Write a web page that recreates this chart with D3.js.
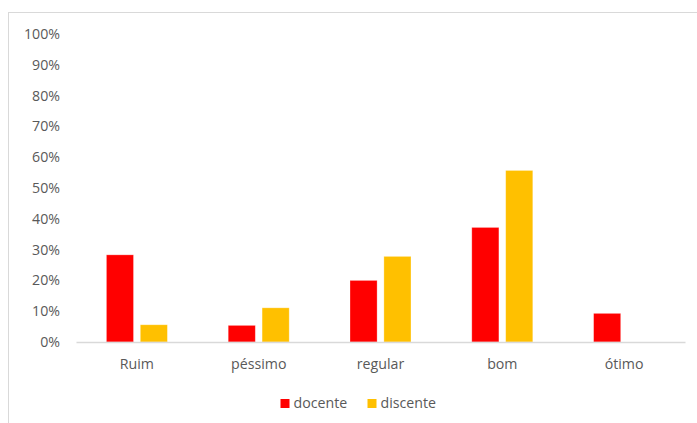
<!DOCTYPE html>
<html>
<head>
<meta charset="utf-8">
<script src="https://cdn.jsdelivr.net/npm/d3@7"></script>
<style>
  body { margin: 0; background: #fff; }
  svg { display: block; font-family: "Open Sans", sans-serif; }
</style>
</head>
<body>
<div id="chart"></div>
<script>
const categories = ["Ruim", "péssimo", "regular", "bom", "ótimo"];
const seriesNames = ["docente", "discente"];
const docente = [0.283, 0.054, 0.20, 0.372, 0.093];
const discente = [0.056, 0.111, 0.278, 0.557, 0];
const colors = ["#ff0000", "#ffc000"];
const yTicks = d3.range(0, 1.01, 0.1);

const width = 697;
const height = 423;
const margin = { top: 34, right: 12, bottom: 81, left: 76 };
const fontSize = "14.2px";
const textColor = "#595959";

const svg = d3.select("#chart")
  .append("svg")
  .attr("width", width)
  .attr("height", height);

// chart frame
svg.append("rect")
  .attr("x", 8.5)
  .attr("y", 12.5)
  .attr("width", 720)
  .attr("height", 440)
  .attr("fill", "none")
  .attr("stroke", "#d9d9d9");

const x = d3.scaleBand()
  .domain(categories)
  .range([margin.left, width - margin.right]);

const xSub = d3.scaleBand()
  .domain(seriesNames)
  .range([0, 61])
  .paddingInner(0.2);

const y = d3.scaleLinear()
  .domain([0, 1])
  .range([height - margin.bottom, margin.top]);

const data = categories.map((c, i) => ({ cat: c, values: [docente[i], discente[i]] }));

// bars
svg.append("g")
  .selectAll("g")
  .data(data)
  .join("g")
    .attr("transform", d => `translate(${x(d.cat) + x.bandwidth() / 2 - 30.5},0)`)
  .selectAll("rect")
  .data(d => d.values.map((v, j) => ({ v, s: seriesNames[j], j })).filter(e => e.v > 0))
  .join("rect")
    .attr("x", d => xSub(d.s))
    .attr("y", d => y(d.v))
    .attr("width", xSub.bandwidth())
    .attr("height", d => y(0) - y(d.v))
    .attr("fill", d => colors[d.j])
    .attr("stroke", "#fff")
    .attr("stroke-opacity", 0.4)
    .attr("stroke-width", 0.75);

// y axis labels
svg.append("g")
  .attr("transform", `translate(60,0)`)
  .call(d3.axisLeft(y).tickValues(yTicks).tickSize(0).tickPadding(0)
    .tickFormat(d3.format(".0%")))
  .call(g => g.select(".domain").remove())
  .call(g => g.selectAll("text")
    .attr("fill", textColor)
    .style("font-size", fontSize)
    .style("font-family", "'Open Sans', sans-serif"));

// x axis
svg.append("g")
  .attr("transform", `translate(0,${y(0)})`)
  .call(d3.axisBottom(x).tickSize(0).tickPadding(17).tickSizeOuter(0))
  .call(g => g.select(".domain").attr("stroke", "#d9d9d9").attr("stroke-width", 1.5))
  .call(g => g.selectAll("text")
    .attr("fill", textColor)
    .style("font-size", fontSize)
    .style("font-family", "'Open Sans', sans-serif"));

// legend
const legendX = [280.5, 367.5];
const legend = svg.append("g")
  .selectAll("g")
  .data(seriesNames)
  .join("g")
    .attr("transform", (d, i) => `translate(${legendX[i]},399)`);

legend.append("rect")
  .attr("width", 9)
  .attr("height", 9)
  .attr("fill", (d, i) => colors[i]);

legend.append("text")
  .attr("x", 13)
  .attr("y", 4.5)
  .attr("dy", "0.35em")
  .attr("fill", textColor)
  .style("font-size", fontSize)
  .text(d => d);
</script>
</body>
</html>
